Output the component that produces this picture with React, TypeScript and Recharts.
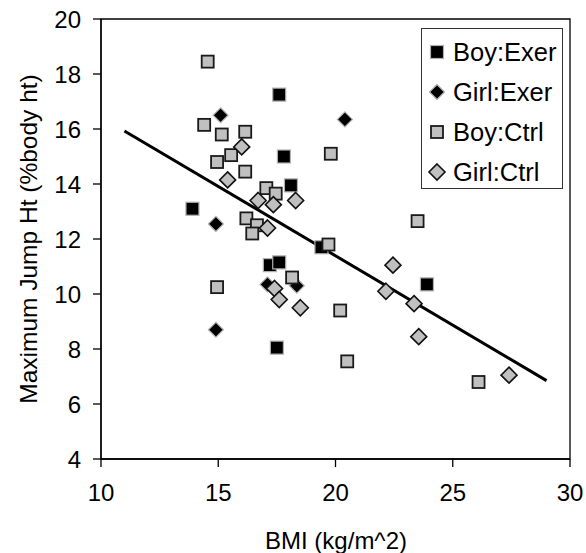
import {
  Legend,
  ReferenceArea,
  Scatter,
  ScatterChart,
  XAxis,
  YAxis,
} from "recharts";

type Pt = [number, number];

// BMI (kg/m^2), max jump height (% body height)
const boyExer: Pt[] = [
  [13.9, 13.1], [17.6, 17.25], [17.8, 15.0], [18.1, 13.95], [19.4, 11.7],
  [17.2, 11.05], [17.6, 11.15], [17.5, 8.05], [23.9, 10.35],
];
const girlExer: Pt[] = [
  [15.1, 16.5], [14.9, 12.55], [14.9, 8.7], [20.4, 16.35], [17.1, 10.35], [18.35, 10.3],
];
const boyCtrl: Pt[] = [
  [14.55, 18.45], [14.4, 16.15], [15.15, 15.8], [16.15, 15.9], [15.55, 15.05],
  [14.95, 14.8], [16.15, 14.45], [17.05, 13.85], [17.45, 13.65], [16.2, 12.75],
  [16.65, 12.5], [16.45, 12.2], [19.8, 15.1], [19.7, 11.8], [23.5, 12.65],
  [14.95, 10.25], [18.15, 10.6], [20.2, 9.4], [20.5, 7.55], [26.1, 6.8],
];
const girlCtrl: Pt[] = [
  [16.0, 15.35], [15.4, 14.15], [16.7, 13.4], [17.35, 13.25], [17.1, 12.4],
  [18.3, 13.4], [17.4, 10.2], [17.6, 9.8], [18.5, 9.5], [22.45, 11.05],
  [22.15, 10.1], [23.35, 9.65], [23.55, 8.45], [27.4, 7.05],
];
const trendX = [11, 29];
const trendY = [15.93, 6.85];

const xTicks = [10, 15, 20, 25, 30];
const yTicks = [4, 6, 8, 10, 12, 14, 16, 18, 20];

const FONT = "'Liberation Sans', Arial, sans-serif";
const GREY = "#c0c0c0";

const toRows = (pts: Pt[]) => pts.map(([x, y]) => ({ x, y }));
const trend = trendX.map((x, i) => ({ x, y: trendY[i] }));

type Kind = "blackSquare" | "blackDiamond" | "greySquare" | "greyDiamond";

function Marker({ kind, cx, cy }: { kind: Kind; cx: number; cy: number }) {
  if (kind === "blackSquare")
    return <rect x={cx - 6.5} y={cy - 6.5} width={13} height={13} fill="#000" stroke="#b0b0b0" strokeWidth={1.2} />;
  if (kind === "greySquare")
    return <rect x={cx - 6} y={cy - 6} width={12} height={12} fill={GREY} stroke="#1a1a1a" strokeWidth={1.8} />;
  const r = kind === "blackDiamond" ? 7.5 : 8;
  const pts = `${cx},${cy - r} ${cx + r},${cy} ${cx},${cy + r} ${cx - r},${cy}`;
  if (kind === "blackDiamond")
    return <polygon points={pts} fill="#000" stroke="#b0b0b0" strokeWidth={1.2} />;
  return <polygon points={pts} fill={GREY} stroke="#111" strokeWidth={1.6} />;
}

const series: { name: string; data: Pt[]; kind: Kind }[] = [
  { name: "Boy:Exer", data: boyExer, kind: "blackSquare" },
  { name: "Girl:Exer", data: girlExer, kind: "blackDiamond" },
  { name: "Boy:Ctrl", data: boyCtrl, kind: "greySquare" },
  { name: "Girl:Ctrl", data: girlCtrl, kind: "greyDiamond" },
];

function LegendBox() {
  return (
    <svg width={142} height={161} style={{ display: "block" }}>
      <rect x={0.5} y={0.5} width={141} height={160} fill="#fff" stroke="#333" strokeWidth={1} />
      {series.map((s, i) => {
        const cy = 24 + i * 40;
        return (
          <g key={s.name}>
            <Marker kind={s.kind} cx={16} cy={cy} />
            <text x={32} y={cy} dominantBaseline="central" fontSize={25.5} fontFamily={FONT} fill="#000">
              {s.name}
            </text>
          </g>
        );
      })}
    </svg>
  );
}

export default function App() {
  return (
    <div style={{ position: "absolute", left: 0, top: 0 }}>
      <ScatterChart width={586} height={553} margin={{ top: 19, right: 16, left: 0, bottom: 0 }}>
        <XAxis
          type="number"
          dataKey="x"
          domain={[10, 30]}
          ticks={xTicks}
          height={94}
          stroke="#000"
          strokeWidth={1.3}
          tickSize={8}
          tickMargin={17}
          tick={{ fill: "#000", fontSize: 24, fontFamily: FONT }}
          allowDataOverflow
          label={{
            content: () => (
              <text x={336} y={549} textAnchor="middle" fontSize={24} fontFamily={FONT} fill="#000">
                BMI (kg/m^2)
              </text>
            ),
          }}
        />
        <YAxis
          type="number"
          dataKey="y"
          domain={[4, 20]}
          ticks={yTicks}
          width={101}
          stroke="#000"
          strokeWidth={1.3}
          tickSize={8}
          tickMargin={12}
          tick={{ fill: "#000", fontSize: 24, fontFamily: FONT }}
          allowDataOverflow
          label={{
            content: () => (
              <text
                x={28}
                y={239}
                transform="rotate(-90 28 239)"
                textAnchor="middle"
                dominantBaseline="central"
                fontSize={24.5}
                fontFamily={FONT}
                fill="#000"
              >
                Maximum Jump Ht (%body ht)
              </text>
            ),
          }}
        />
        <ReferenceArea x1={10} x2={30} y1={4} y2={20} fill="none" stroke="#000" strokeWidth={1.3} />
        <Scatter
          name="trend"
          data={trend}
          line={{ stroke: "#000", strokeWidth: 3 }}
          shape={() => <g />}
          legendType="none"
          isAnimationActive={false}
        />
        {series.map((s) => (
          <Scatter
            key={s.name}
            name={s.name}
            data={toRows(s.data)}
            shape={(p: any) => <Marker kind={s.kind} cx={p.cx} cy={p.cy} />}
            isAnimationActive={false}
          />
        ))}
        <Legend
          layout="vertical"
          align="center"
          verticalAlign="middle"
          wrapperStyle={{ left: 421, top: 28, width: 142, height: 161 }}
          content={() => <LegendBox />}
        />
      </ScatterChart>
    </div>
  );
}
